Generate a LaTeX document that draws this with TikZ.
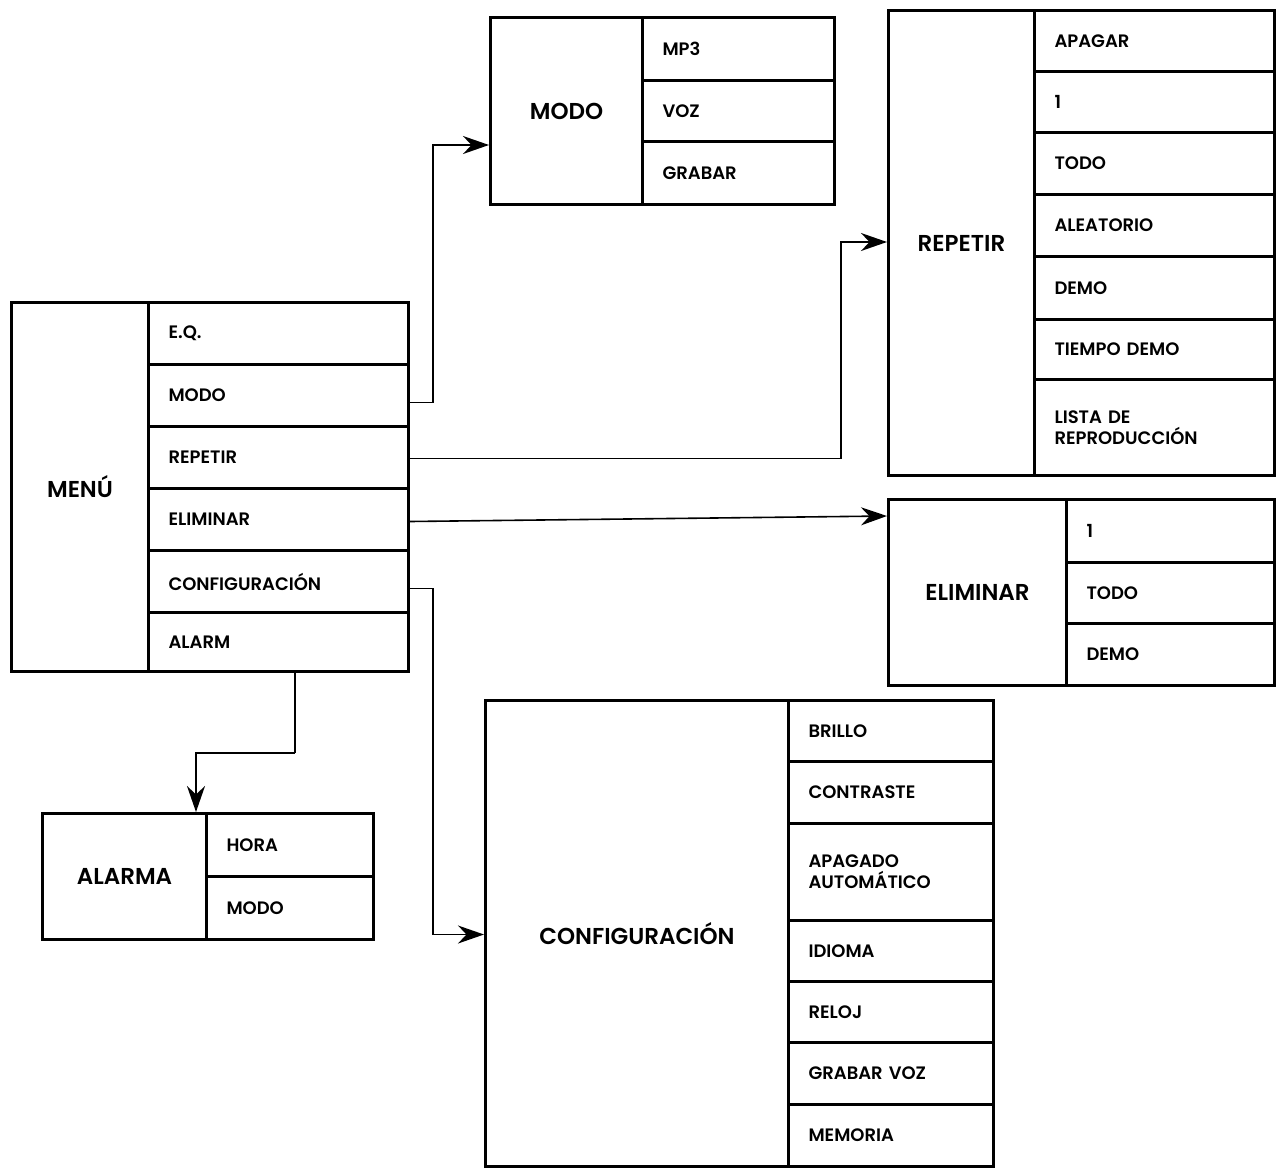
\documentclass[tikz,border=0pt]{standalone}
\usepackage{fontspec}
\setmainfont{Poppins}[BoldFont={* SemiBold}]
\usetikzlibrary{arrows.meta}
\begin{document}
\begin{tikzpicture}[x=1pt,y=-1pt,
  box/.style={draw,line width=3pt,anchor=north west,inner sep=0pt,font=\bfseries\fontsize{18}{21}\selectfont},
  ttl/.style={box,align=center,font=\bfseries\fontsize{23}{27}\selectfont},
  item/.style={box,align=left,inner xsep=20pt},
  arr/.style={line width=1.6pt,-{Stealth[length=26pt,width=18pt]}},
  con/.style={line width=1.6pt}]
\useasboundingbox (0,0) rectangle (1282,1167);
% cell macro: name, x1, y1, x2, y2, text
\newcommand\tcell[6]{\node[ttl,minimum width=#4-#2,minimum height=#5-#3,text width=#4-#2-10] (#1) at (#2,#3) {#6};}
\newcommand\icell[6]{\node[item,minimum width=#4-#2,minimum height=#5-#3,text width=#4-#2-40] (#1) at (#2,#3) {#6};}
% MENU
\tcell{menu}{10}{301}{147}{670}{MENÚ}
\icell{m1}{147}{301}{407}{363}{E.Q.}
\icell{m2}{147}{363}{407}{425}{MODO}
\icell{m3}{147}{425}{407}{487}{REPETIR}
\icell{m4}{147}{487}{407}{549}{ELIMINAR}
\icell{m5}{147}{549}{407}{611}{CONFIGURACIÓN}
\icell{m6}{147}{611}{407}{670}{ALARM}
% MODO
\tcell{modo}{489}{16}{641}{203}{MODO}
\icell{mo1}{641}{16}{833}{79}{MP3}
\icell{mo2}{641}{79}{833}{140}{VOZ}
\icell{mo3}{641}{140}{833}{203}{GRABAR}
% REPETIR
\tcell{rep}{887}{9}{1033}{474}{REPETIR}
\icell{r1}{1033}{9}{1273}{70}{APAGAR}
\icell{r2}{1033}{70}{1273}{131}{1}
\icell{r3}{1033}{131}{1273}{193}{TODO}
\icell{r4}{1033}{193}{1273}{255}{ALEATORIO}
\icell{r5}{1033}{255}{1273}{318}{DEMO}
\icell{r6}{1033}{318}{1273}{378}{TIEMPO DEMO}
\icell{r7}{1033}{378}{1273}{474}{LISTA DE\\REPRODUCCIÓN}
% ELIMINAR
\tcell{eli}{887}{498}{1065}{684}{ELIMINAR}
\icell{e1}{1065}{498}{1273}{561}{1}
\icell{e2}{1065}{561}{1273}{622}{TODO}
\icell{e3}{1065}{622}{1273}{684}{DEMO}
% CONFIG
\tcell{conf}{484}{699}{787}{1165}{CONFIGURACIÓN}
\icell{c1}{787}{699}{992}{760}{BRILLO}
\icell{c2}{787}{760}{992}{822}{CONTRASTE}
\icell{c3}{787}{822}{992}{919}{APAGADO\\AUTOMÁTICO}
\icell{c4}{787}{919}{992}{980}{IDIOMA}
\icell{c5}{787}{980}{992}{1041}{RELOJ}
\icell{c6}{787}{1041}{992}{1103}{GRABAR VOZ}
\icell{c7}{787}{1103}{992}{1165}{MEMORIA}
% ALARMA
\tcell{ala}{41}{812}{205}{938}{ALARMA}
\icell{a1}{205}{812}{372}{875}{HORA}
\icell{a2}{205}{875}{372}{938}{MODO}
% connectors
\draw[arr] ([yshift=-7pt]m2.east) -- ++(23,0) |- ([yshift=-34pt]modo.west);
\draw[arr] ([yshift=-1pt]m3.east) -| ([xshift=-46pt,yshift=1pt]rep.west) -- ([yshift=1pt]rep.west);
\draw[arr] ([yshift=-2pt]m4.east) -- (eli.west |- {0,516});
\draw[arr] ([yshift=-7pt]m5.east) -- ++(23,0) |- ([yshift=-1pt]conf.west);
\draw[con] ([xshift=18pt]m6.south west |- m6.south) ++(130,0) coordinate (s) -- ++(0,80) coordinate (t);
\draw[arr] (t) -| ([xshift=155pt]ala.north west);
\end{tikzpicture}
\end{document}
